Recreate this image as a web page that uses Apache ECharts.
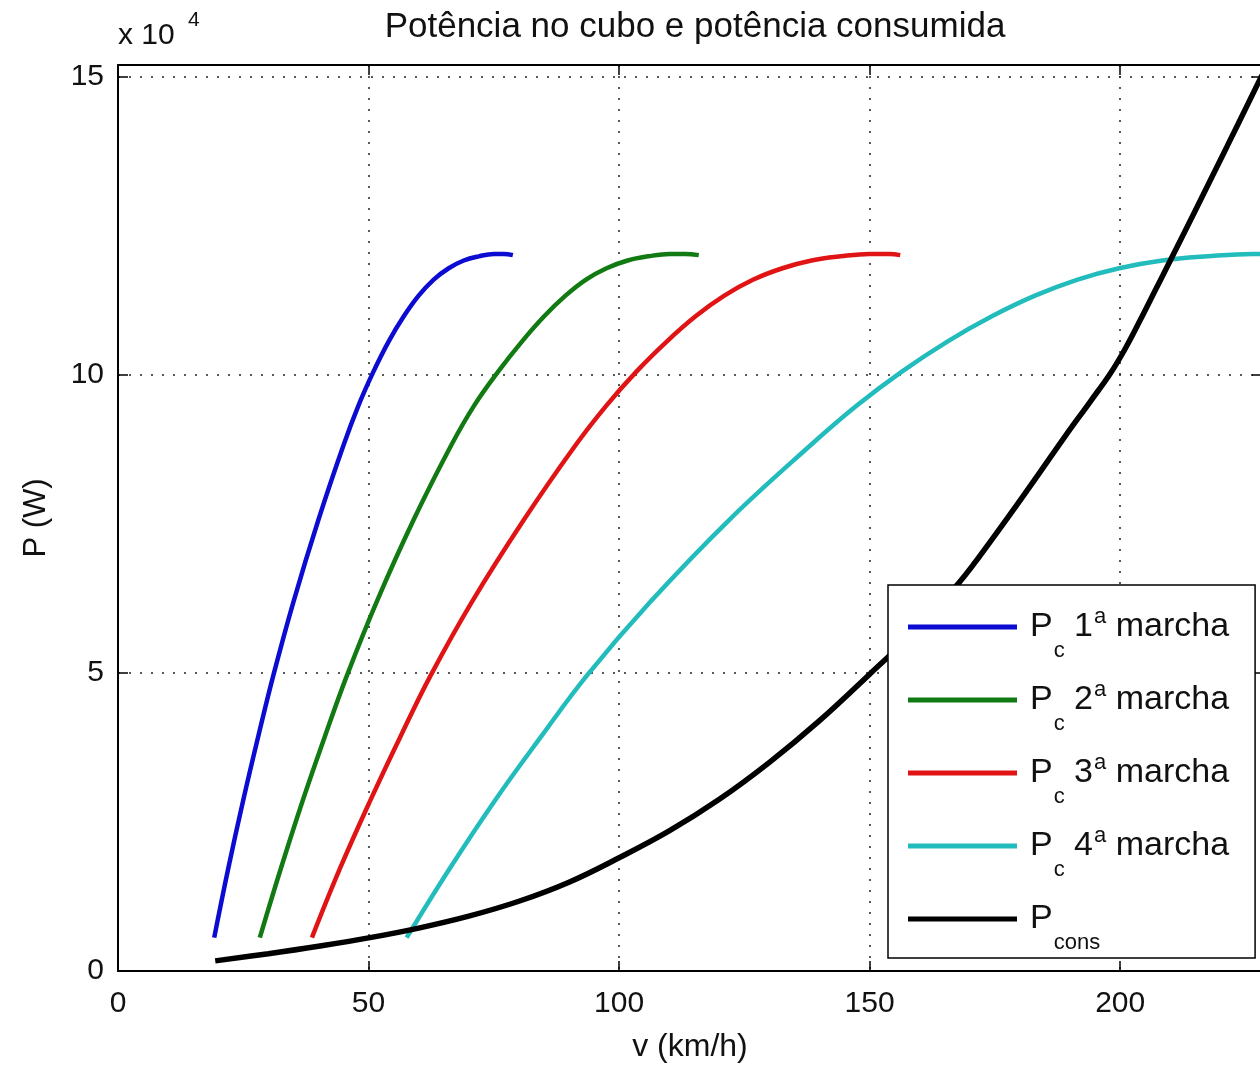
<!DOCTYPE html>
<html>
<head>
<meta charset="utf-8">
<script src="https://cdn.jsdelivr.net/npm/echarts@6/dist/echarts.min.js"></script>
<style>
  html, body { margin: 0; padding: 0; background: #fff; overflow: hidden; }
  #chart { width: 1264px; height: 1068px; }
</style>
</head>
<body>
<div id="chart"></div>
<script>
// velocidade (km/h) e potencia (W)
const v1 = [19.2, 22, 25, 28, 31, 35, 40, 45, 48, 51, 54, 57, 60, 63, 66, 69, 72, 75, 77, 78.8]
const p1 = [5600, 17200, 28700, 39400, 49600, 61900, 75700, 88200, 94900, 100600, 105600, 109800, 113300, 116000, 117900, 119200, 119900, 120300, 120300, 120100]

const v2 = [28.3, 32.5, 36.9, 41.3, 45.7, 51.6, 59.0, 66.5, 71.1, 75.9, 80.6, 85.0, 89.3, 93.4, 97.5, 101.7, 105.8, 110.1, 113.2, 115.9]
const p2 = [5600, 17200, 28700, 39400, 49600, 61900, 75700, 88200, 94900, 100600, 105600, 109800, 113300, 116000, 117900, 119200, 119900, 120300, 120300, 120100]

const v3 = [38.7, 44.3, 50.4, 56.4, 62.4, 70.6, 81.0, 91.3, 97.5, 103.5, 109.5, 115.2, 121.0, 126.8, 132.6, 138.4, 144.2, 150.0, 154.0, 156.1]
const p3 = [5600, 17200, 28700, 39400, 49600, 61900, 75700, 88200, 94900, 100600, 105600, 109800, 113300, 116000, 117900, 119200, 119900, 120300, 120300, 120100]

const v4 = [57.6, 66.2, 75.3, 84.5, 93.6, 106.2, 122.0, 138.2, 147.5, 156.5, 165.5, 174.3, 183.0, 191.5, 199.8, 208.4, 217.4, 226.5, 231.5, 236.0]
const p4 = [5600, 17200, 28700, 39400, 49600, 61900, 75700, 88200, 94900, 100600, 105600, 109800, 113300, 116000, 117900, 119200, 119900, 120300, 120300, 120100]

const vCons = [19.4, 30, 40, 50, 60, 70, 80, 90, 100, 110, 120, 130, 140, 150, 160, 168, 175, 182, 189, 194, 198, 201, 204, 207, 210, 214.7, 221.3, 228.3]
const pCons = [1700, 2900, 4150, 5550, 7200, 9200, 11700, 14900, 19000, 23500, 28800, 35000, 42000, 49800, 57800, 65300, 73100, 81300, 89700, 95500, 100200, 104400, 109200, 114200, 119200, 127100, 138300, 150300]

const names = ['Pc 1a marcha', 'Pc 2a marcha', 'Pc 3a marcha', 'Pc 4a marcha', 'Pcons']
const legendText = [
  '{p|P}{sub|c}{n| 1}{sup|a}{n| marcha}',
  '{p|P}{sub|c}{n| 2}{sup|a}{n| marcha}',
  '{p|P}{sub|c}{n| 3}{sup|a}{n| marcha}',
  '{p|P}{sub|c}{n| 4}{sup|a}{n| marcha}',
  '{p|P}{sub|cons}'
]
const colors = ['#0b0bd2', '#127a12', '#e01414', '#22bcbc', '#000000']
const widths = [4.5, 4.5, 4.5, 4.5, 5.5]

const FONT = 'Liberation Sans, Arial, Helvetica, sans-serif'
const zip = (xs, ys) => xs.map((x, i) => [x, ys[i]])
const allV = [v1, v2, v3, v4, vCons]
const allP = [p1, p2, p3, p4, pCons]

const chart = echarts.init(document.getElementById('chart'))

const dotted = { color: '#222', width: 1.5, type: [2, 9] }
const frame = { show: true, onZero: false, lineStyle: { color: '#000', width: 2 } }
const tick = { inside: true, length: 10, lineStyle: { color: '#000', width: 1.5 } }

const series = names.map((n, i) => ({
  name: n,
  type: 'line',
  data: zip(allV[i], allP[i]),
  showSymbol: false,
  smooth: 0.4,
  clip: true,
  lineStyle: { color: colors[i], width: widths[i] },
  itemStyle: { color: colors[i] }
}))

const option = {
  animation: false,
  backgroundColor: '#fff',
  textStyle: { fontFamily: FONT },
  title: {
    text: 'Potência no cubo e potência consumida',
    left: 690,
    textAlign: 'center',
    top: 5,
    textStyle: { fontFamily: FONT, fontSize: 35, fontWeight: 'normal', color: '#111' }
  },
  grid: { left: 118, right: 2, top: 65, bottom: 94 },
  xAxis: [
    {
      type: 'value', min: 0, max: 228.3, interval: 50, position: 'bottom',
      axisLine: frame, axisTick: tick,
      splitLine: { show: true, showMaxLine: false, lineStyle: dotted },
      axisLabel: { fontFamily: FONT, fontSize: 30, color: '#111', margin: 18, showMaxLabel: false },
      name: 'v (km/h)', nameLocation: 'middle', nameGap: 60,
      nameTextStyle: { fontFamily: FONT, fontSize: 32, color: '#111' }
    },
    {
      type: 'value', min: 0, max: 228.3, interval: 50, position: 'top',
      axisLine: frame, axisTick: tick,
      splitLine: { show: false },
      axisLabel: { show: false }
    }
  ],
  yAxis: [
    {
      type: 'value', min: 0, max: 152000, interval: 50000, position: 'left',
      axisLine: frame, axisTick: tick,
      splitLine: { show: true, showMaxLine: false, lineStyle: dotted },
      axisLabel: {
        fontFamily: FONT, fontSize: 30, color: '#111', margin: 14, showMaxLabel: false,
        formatter: v => String(v / 10000)
      },
      name: 'P (W)', nameLocation: 'middle', nameGap: 66,
      nameTextStyle: { fontFamily: FONT, fontSize: 31, color: '#111' }
    },
    {
      type: 'value', min: 0, max: 152000, interval: 50000, position: 'right',
      axisLine: frame, axisTick: tick,
      splitLine: { show: false },
      axisLabel: { show: false }
    }
  ],
  legend: {
    data: names,
    orient: 'vertical',
    left: 888,
    top: 585,
    padding: [7, 26, 4, 20],
    itemGap: 3,
    itemWidth: 109,
    itemHeight: 5,
    icon: 'rect',
    backgroundColor: '#fff',
    borderColor: '#000',
    borderWidth: 1.5,
    borderRadius: 0,
    formatter: name => legendText[names.indexOf(name)],
    textStyle: {
      fontFamily: FONT,
      color: '#111',
      rich: {
        p: { fontFamily: FONT, fontSize: 34, lineHeight: 40, padding: [0, 0, 0, 8], color: '#111' },
        n: { fontFamily: FONT, fontSize: 34, lineHeight: 40, color: '#111' },
        sub: { fontFamily: FONT, fontSize: 22, lineHeight: 22, padding: [48, 0, 0, 1], color: '#111' },
        sup: { fontFamily: FONT, fontSize: 22, lineHeight: 22, padding: [0, 0, 20, 1], color: '#111' }
      }
    }
  },
  graphic: [
    { type: 'text', left: 118, top: 21, style: { text: 'x 10', font: '30px ' + FONT, fill: '#111' } },
    { type: 'text', left: 188, top: 10, style: { text: '4', font: '21px ' + FONT, fill: '#111' } }
  ],
  series
}

chart.setOption(option)
</script>
</body>
</html>
